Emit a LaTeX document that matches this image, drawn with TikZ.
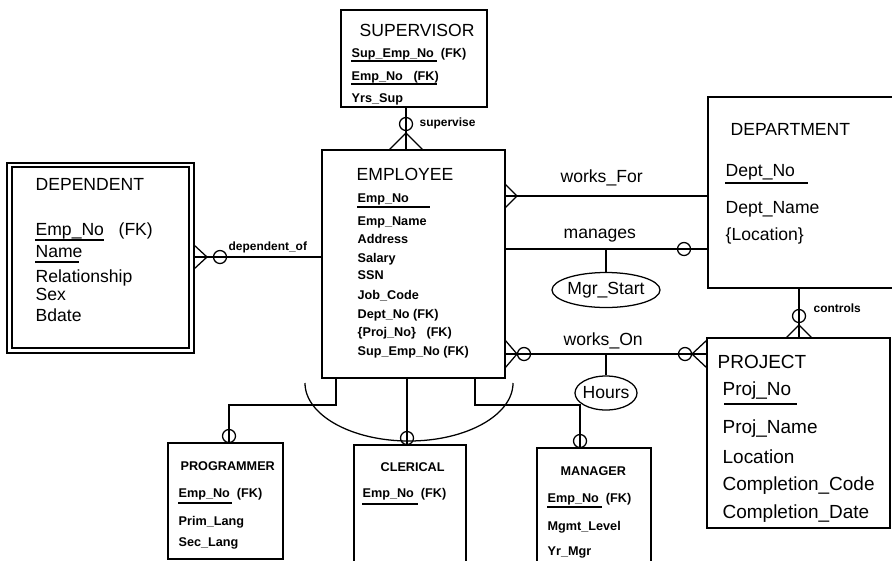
\documentclass[tikz,border=0pt]{standalone}
\usepackage{fontspec}
\setmainfont{Liberation Sans}
\usetikzlibrary{fit}
\usetikzlibrary{shapes}

\begin{document}
\begin{tikzpicture}[x=0.025cm, y=-0.025cm, line width=0.9pt,
	box/.style={draw, rectangle, inner sep=0pt, line width=1.1pt},
	txt/.style={anchor=base west, inner sep=0pt},
	big/.style={txt, font=\fontsize{12.5}{15}\selectfont},
	bigger/.style={txt, font=\fontsize{13.5}{16}\selectfont},
	sml/.style={txt, font=\bfseries\fontsize{9}{11}\selectfont},
	tny/.style={txt, font=\bfseries\fontsize{8.5}{10}\selectfont},
	att/.style={draw, ellipse, inner sep=0pt}]

	\useasboundingbox (0,0) rectangle (892,560);
	\clip (0,0) rectangle (892,560);

	%entity boxes
	\node[box, fit={(341,10) (487,107)}] (sup) {};
	\node[box, fit={(322,150) (505,378)}] (emp) {};
	\node[box, fit={(7,163) (194,353)}] (dep) {};
	\node[box, fit={(12,167) (189,348)}] (depin) {};
	\node[box, fit={(708,97) (900,288)}] (dept) {};
	\node[box, fit={(707,338) (890,528)}] (proj) {};
	\node[box, fit={(168,443) (283,559)}] (prog) {};
	\node[box, fit={(354,445) (466,562)}] (cler) {};
	\node[box, fit={(537,448) (651,562)}] (mgr) {};

	% supervisor
	\node[big] (s0) at (359,36) {SUPERVISOR};
	\node[sml] (s1) at (351,57) {Sup\_Emp\_No\ \ (FK)};
	\node[sml] (s2) at (351,80) {Emp\_No\ \ \ (FK)};
	\node[sml] (s3) at (351,102) {Yrs\_Sup};
	\draw (351,61) -- (437,61);
	\draw (351,84) -- (437,84);

	% employee
	\node[big] (e0) at (356,180) {EMPLOYEE};
	\node[sml] (e1) at (357,202) {Emp\_No};
	\draw (357,207) -- (430,207);
	\node[sml] (e2) at (357,225) {Emp\_Name};
	\node[sml] (e3) at (357,243) {Address};
	\node[sml] (e4) at (357,262) {Salary};
	\node[sml] (e5) at (357,279) {SSN};
	\node[sml] (e6) at (357,299) {Job\_Code};
	\node[sml] (e7) at (357,318) {Dept\_No (FK)};
	\node[sml] (e8) at (357,336) {\{Proj\_No\}\ \ \ (FK)};
	\node[sml] (e9) at (357,355) {Sup\_Emp\_No (FK)};

	% dependent
	\node[big] (d0) at (35,190) {DEPENDENT};
	\node[big] (d1) at (35,235) {Emp\_No\ \ \ (FK)};
	\draw (35,240) -- (104,240);
	\node[big] (d2) at (35,257) {Name};
	\draw (35,262) -- (79,262);
	\node[big] (d3) at (35,282) {Relationship};
	\node[big] (d4) at (35,300) {Sex};
	\node[big] (d5) at (35,321) {Bdate};

	% department
	\node[big] (p0) at (730,135) {DEPARTMENT};
	\node[big] (p1) at (725,176) {Dept\_No};
	\draw (725,183) -- (808,183);
	\node[big] (p2) at (725,213) {Dept\_Name};
	\node[big] (p3) at (725,240) {\{Location\}};

	% project
	\node[bigger] (j0) at (717,368) {PROJECT};
	\node[bigger] (j1) at (722,395) {Proj\_No};
	\draw (724,404) -- (797,404);
	\node[bigger] (j2) at (722,433) {Proj\_Name};
	\node[bigger] (j3) at (722,463) {Location};
	\node[bigger] (j4) at (722,490) {Completion\_Code};
	\node[bigger] (j5) at (722,518) {Completion\_Date};

	% subtypes
	\node[sml] (g0) at (180,470) {PROGRAMMER};
	\node[sml] (g1) at (178,497) {Emp\_No\ \ (FK)};
	\draw (178,503) -- (232,503);
	\node[sml] (g2) at (178,525) {Prim\_Lang};
	\node[sml] (g3) at (178,546) {Sec\_Lang};
	\node[sml] (c0) at (380,471) {CLERICAL};
	\node[sml] (c1) at (362,497) {Emp\_No\ \ (FK)};
	\draw (362,504) -- (418,504);
	\node[sml] (m0) at (560,475) {MANAGER};
	\node[sml] (m1) at (547,502) {Emp\_No\ \ (FK)};
	\draw (547,507) -- (602,507);
	\node[sml] (m2) at (547,530) {Mgmt\_Level};
	\node[sml] (m3) at (547,555) {Yr\_Mgr};

	% relationship names
	\node[tny] (l1) at (419,126) {supervise};
	\node[tny] (l2) at (228,250) {dependent\_of};
	\node[big] (l3) at (560,182) {works\_For};
	\node[big] (l4) at (563,238) {manages};
	\node[big] (l5) at (563,345) {works\_On};
	\node[tny] (l6) at (813,312) {controls};

	% relationship attributes
	\node[att, minimum width=2.7cm, minimum height=0.875cm] (ms) at (606,290) {};
	\node[big, anchor=center] (mst) at (ms) {Mgr\_Start};
	\node[att, minimum width=1.55cm, minimum height=0.85cm] (hr) at (606,393) {};
	\node[big, anchor=center] (hrt) at (hr) {Hours};

	% supervise
	\coordinate (sv) at (406,0);
	\draw (sup.south -| sv) -- (emp.north -| sv);
	\draw (406,124) circle (6.5);
	\draw (389,150) -- (406,133) -- (423,150);

	% dependent_of
	\coordinate (dv) at (0,257);
	\draw (dep.east |- dv) -- (emp.west |- dv);
	\draw (220,257) circle (6.5);
	\draw (194,245) -- (207,257) -- (194,269);

	% works_For
	\coordinate (fv) at (0,196);
	\draw (emp.east |- fv) -- (dept.west |- fv);
	\draw (505,184) -- (517,196) -- (505,208);

	% manages
	\coordinate (mv) at (0,249);
	\draw (emp.east |- mv) -- (dept.west |- mv);
	\draw (684,249) circle (6.5);
	\draw (ms.north) -- (ms.north |- mv);

	% works_On
	\coordinate (ov) at (0,354);
	\draw (emp.east |- ov) -- (proj.west |- ov);
	\draw (505,340) -- (517,354) -- (505,368);
	\draw (524,354) circle (6.5);
	\draw (685,354) circle (6.5);
	\draw (707,340) -- (692,354) -- (707,368);
	\draw (hr.north) -- (hr.north |- ov);

	% controls
	\coordinate (cv) at (799,0);
	\draw (dept.south -| cv) -- (proj.north -| cv);
	\draw (799,316) circle (6.5);
	\draw (786,338) -- (799,325) -- (812,338);

	% subtype links
	\coordinate (a1) at (336,405);
	\coordinate (a2) at (229,405);
	\draw (emp.south -| a1) -- (a1) -- (a2) -- (prog.north -| a2);
	\draw (229,436) circle (6.5);
	\coordinate (a3) at (407,0);
	\draw (emp.south -| a3) -- (cler.north -| a3);
	\draw (407,438) circle (6.5);
	\coordinate (a4) at (475,405);
	\coordinate (a5) at (580,405);
	\draw (emp.south -| a4) -- (a4) -- (a5) -- (mgr.north -| a5);
	\draw (580,441) circle (6.5);

	% disjoint arc
	\draw (513,383) arc[start angle=0, end angle=180, x radius=104, y radius=58];
\end{tikzpicture}
\end{document}
